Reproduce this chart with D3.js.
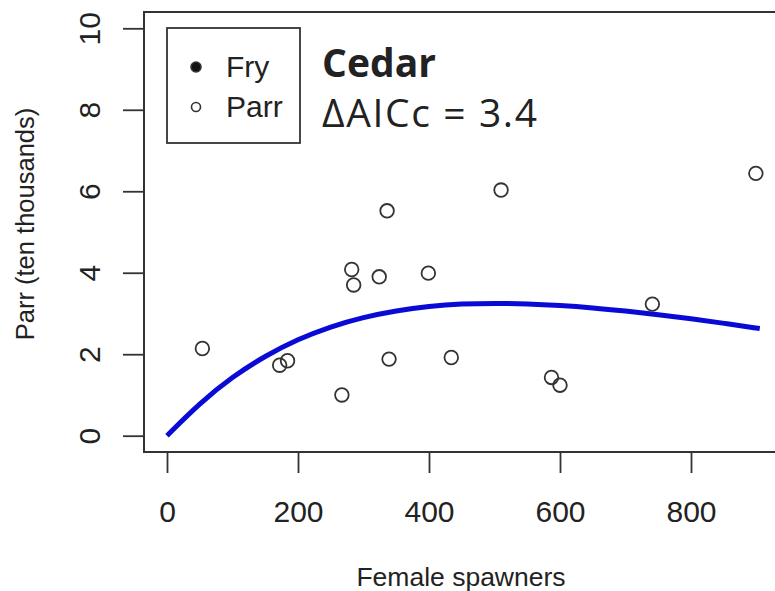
<!DOCTYPE html>
<html>
<head>
<meta charset="utf-8">
<script src="https://cdn.jsdelivr.net/npm/d3@7"></script>
<style>
  body { margin: 0; background: #fff; }
  text { font-family: "Liberation Sans", Arial, sans-serif; fill: #222; }
</style>
</head>
<body>
<div id="chart"></div>
<script>
// Data
const spawners = [54, 172, 184, 267, 282, 285, 324, 336, 339, 399, 434, 510, 587, 600, 741, 899]
const parr = [2.14, 1.73, 1.84, 1.00, 4.08, 3.70, 3.90, 5.52, 1.88, 3.99, 1.92, 6.03, 1.43, 1.24, 3.23, 6.44]

// fitted curve, read at steps along x
const curveX = [0, 50, 100, 150, 200, 250, 300, 350, 400, 450, 500, 550, 600, 650, 700, 750, 800, 850, 905]
const curveY = [0, 0.80, 1.45, 1.96, 2.37, 2.68, 2.91, 3.07, 3.18, 3.24, 3.25, 3.24, 3.20, 3.14, 3.06, 2.97, 2.87, 2.76, 2.63]

const xTicks = [0, 200, 400, 600, 800]
const yTicks = [0, 2, 4, 6, 8, 10]
const legendLabels = ["Fry", "Parr"]

// Dimensions
const width = 775
const height = 591
const box = { left: 144, top: 12, right: 800, bottom: 452 }

const svg = d3.select("#chart").append("svg")
    .attr("width", width)
    .attr("height", height)

const xScale = d3.scaleLinear()
    .domain([0, 800])
    .range([167, 691])
const yScale = d3.scaleLinear()
    .domain([0, 10])
    .range([435.7, 28.3])

// plot frame
svg.append("rect")
    .attr("x", box.left)
    .attr("y", box.top)
    .attr("width", box.right - box.left)
    .attr("height", box.bottom - box.top)
    .attr("fill", "none")
    .attr("stroke", "#333")
    .attr("stroke-width", 2)

// axes
const xAxis = svg.append("g")
    .attr("transform", `translate(0, ${box.bottom})`)
    .call(d3.axisBottom(xScale).tickValues(xTicks).tickSize(21).tickPadding(28).tickSizeOuter(0))
const yAxis = svg.append("g")
    .attr("transform", `translate(${box.left}, 0)`)
    .call(d3.axisLeft(yScale).tickValues(yTicks).tickSize(21).tickSizeOuter(0))

;[xAxis, yAxis].forEach(ax => {
    ax.select(".domain").remove()
    ax.selectAll(".tick line").attr("stroke", "#333").attr("stroke-width", 1.8)
    ax.selectAll(".tick text")
        .attr("fill", "#222")
        .style("font-family", "Liberation Sans, Arial, sans-serif")
        .style("font-size", "30px")
})
yAxis.selectAll(".tick text")
    .attr("x", null).attr("dy", null)
    .attr("transform", "translate(-44, 0) rotate(-90)")
    .attr("text-anchor", "middle")
    .attr("dominant-baseline", "auto")
    .attr("y", 0)

// fitted curve
const curvePts = curveX.map((x, i) => [x, curveY[i]])
svg.append("path")
    .datum(curvePts)
    .attr("fill", "none")
    .attr("stroke", "#0a0ad6")
    .attr("stroke-width", 5)
    .attr("d", d3.line()
        .x(d => xScale(d[0]))
        .y(d => yScale(d[1]))
        .curve(d3.curveBasis))

// points
svg.selectAll(".pt")
    .data(spawners.map((s, i) => ({ s, p: parr[i] })))
    .enter().append("circle")
    .attr("class", "pt")
    .attr("cx", d => xScale(d.s))
    .attr("cy", d => yScale(d.p))
    .attr("r", 6.8)
    .attr("fill", "none")
    .attr("stroke", "#333")
    .attr("stroke-width", 1.8)

// legend
const legend = svg.append("g")
legend.append("rect")
    .attr("x", 167).attr("y", 28)
    .attr("width", 133).attr("height", 115)
    .attr("fill", "#fff")
    .attr("stroke", "#333")
    .attr("stroke-width", 1.8)
legendLabels.forEach((lab, i) => {
    const cy = 67 + i * 40
    legend.append("circle")
        .attr("cx", 196).attr("cy", cy)
        .attr("r", i === 0 ? 5 : 4.5)
        .attr("fill", i === 0 ? "#111" : "none")
        .attr("stroke", "#333")
        .attr("stroke-width", 1.6)
    legend.append("text")
        .attr("x", 226).attr("y", cy + 10)
        .style("font-size", "30px")
        .text(lab)
})

// annotation
svg.append("text")
    .attr("x", 322).attr("y", 77)
    .style("font-family", "Open Sans, sans-serif")
    .style("font-weight", 700)
    .style("font-size", "39px")
    .attr("fill", "#000")
    .attr("textLength", 114)
    .text("Cedar")
svg.append("text")
    .attr("x", 322).attr("y", 127)
    .style("font-family", "Open Sans, sans-serif")
    .style("font-size", "39px")
    .attr("fill", "#000")
    .attr("textLength", 215)
    .text("ΔAICc = 3.4")

// axis titles
svg.append("text")
    .attr("x", 461).attr("y", 586)
    .attr("text-anchor", "middle")
    .style("font-size", "26.5px")
    .text("Female spawners")
svg.append("text")
    .attr("transform", "translate(34, 224) rotate(-90)")
    .attr("text-anchor", "middle")
    .style("font-size", "25.5px")
    .text("Parr (ten thousands)")
</script>
</body>
</html>
